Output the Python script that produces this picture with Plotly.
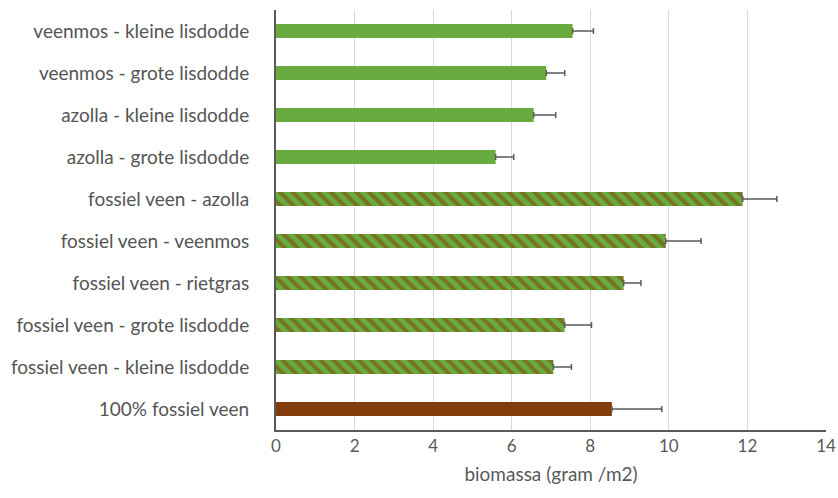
import plotly.graph_objects as go

categories = [
    "100% fossiel veen",
    "fossiel veen - kleine lisdodde",
    "fossiel veen - grote lisdodde",
    "fossiel veen - rietgras",
    "fossiel veen - veenmos",
    "fossiel veen - azolla",
    "azolla - grote lisdodde",
    "azolla - kleine lisdodde",
    "veenmos - grote lisdodde",
    "veenmos - kleine lisdodde",
]
values = [8.55, 7.06, 7.35, 8.85, 9.92, 11.88, 5.59, 6.56, 6.88, 7.55]
errors = [1.27, 0.46, 0.68, 0.44, 0.90, 0.87, 0.46, 0.56, 0.47, 0.53]
kinds = ["brown", "mix", "mix", "mix", "mix", "mix", "green", "green", "green", "green"]
x_ticks = [0, 2, 4, 6, 8, 10, 12, 14]

GREEN = "#6AAB3F"
BROWN = "#843C0C"

fig = go.Figure()
for kind in ["brown", "mix", "green"]:
    idx = [i for i, k in enumerate(kinds) if k == kind]
    if kind == "mix":
        marker = dict(color=GREEN,
                      pattern=dict(shape="\\", fgcolor=BROWN, bgcolor=GREEN,
                                   size=9, solidity=0.45, fillmode="overlay"))
    else:
        marker = dict(color=BROWN if kind == "brown" else GREEN)
    fig.add_trace(go.Bar(
        y=[categories[i] for i in idx],
        x=[values[i] for i in idx],
        orientation="h",
        marker=marker,
        marker_line_width=0,
        error_x=dict(type="data", array=[errors[i] for i in idx], symmetric=False,
                     arrayminus=[0] * len(idx),
                     color="#5A5A5A", thickness=1.5, width=3),
        showlegend=False,
    ))

fig.update_layout(
    width=838, height=498,
    margin=dict(l=276, r=12, t=10, b=68),
    plot_bgcolor="white", paper_bgcolor="white",
    bargap=0.67,
    barmode="overlay",
    font=dict(family="Lato, Open Sans, sans-serif", color="#595959", size=18),
)
fig.update_xaxes(
    range=[0, 14], tickvals=x_ticks, ticktext=[str(t) for t in x_ticks],
    showgrid=True, gridcolor="#D9D9D9", gridwidth=1,
    showline=True, linecolor="#595959", linewidth=2,
    zeroline=False, ticks="", tickfont=dict(size=17), automargin=False,
    title=dict(text="biomassa (gram /m2)", font=dict(size=19), standoff=12),
)
fig.update_yaxes(
    categoryorder="array", categoryarray=categories,
    showline=True, linecolor="#595959", linewidth=2, automargin=False,
    ticks="", tickfont=dict(size=19, color="#555555"), ticklabelstandoff=21,
    range=[-0.5, 9.5],
)

fig.write_html(
    "out.html",
    config={"displayModeBar": False},
    post_script="document.body.style.margin='0px';document.body.style.overflow='hidden';",
)
